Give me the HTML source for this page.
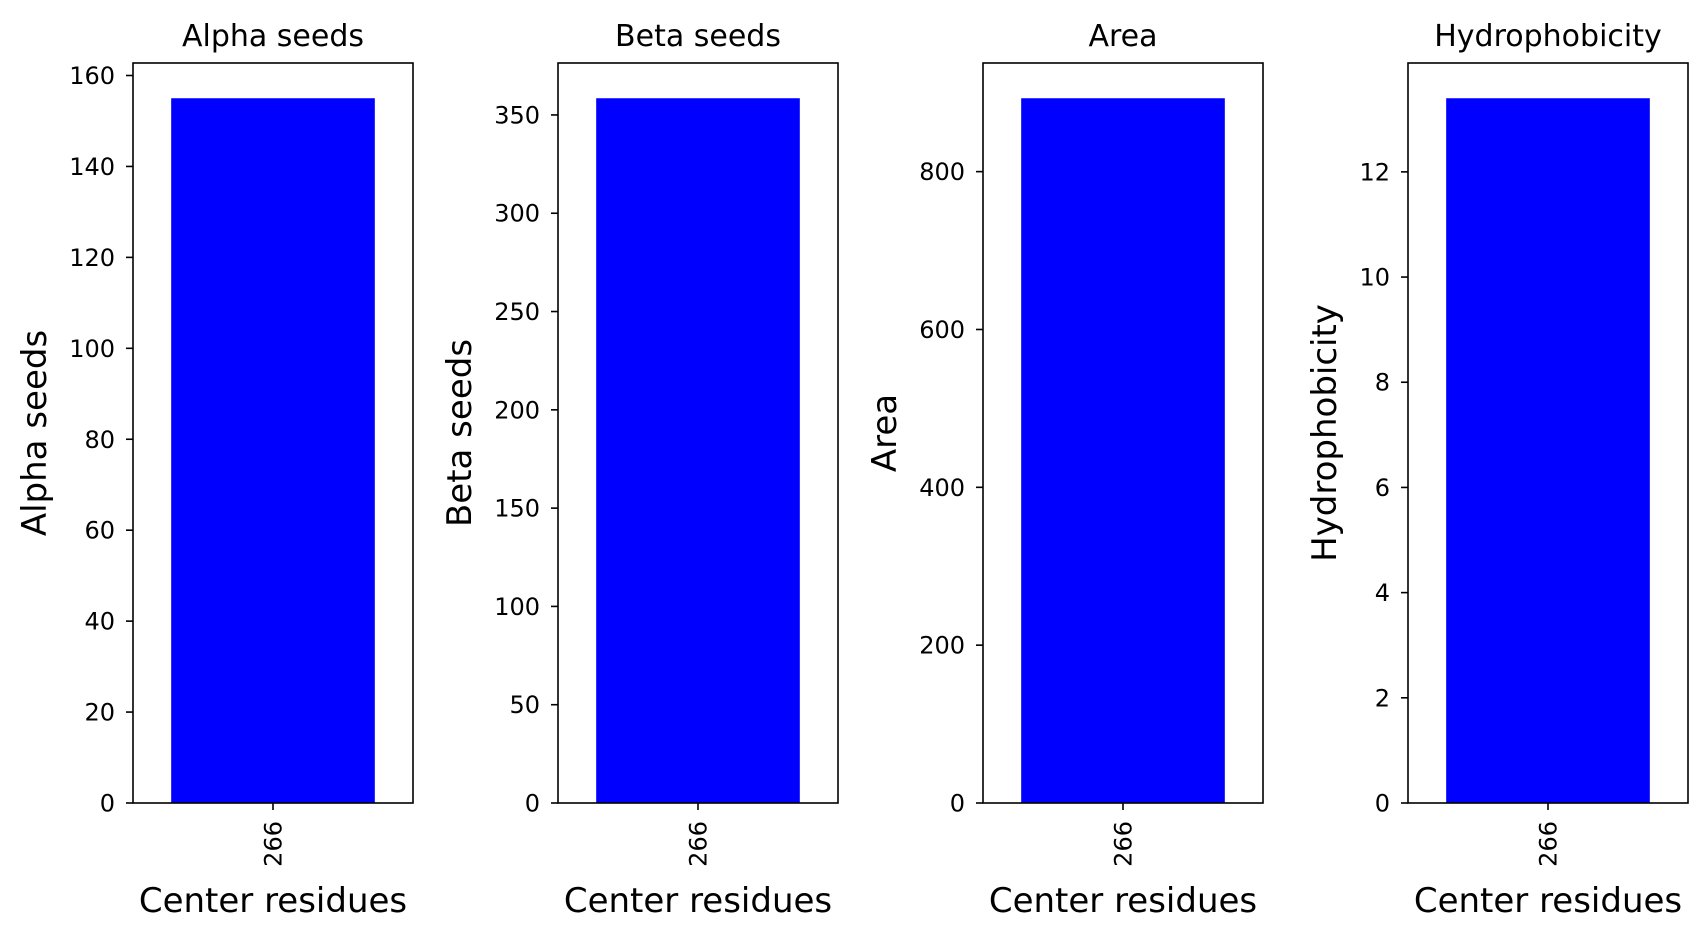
<!DOCTYPE html>
<html><head><meta charset="utf-8"><style>
html,body{margin:0;padding:0;background:#fff;}
svg{display:block;font-family:"DejaVu Sans","Liberation Sans",sans-serif;}
</style></head><body>
<svg id="fig" width="1706" height="937" viewBox="0 0 1706 937" xmlns="http://www.w3.org/2000/svg"></svg>
<script>
const panelTitles = ["Alpha seeds", "Beta seeds", "Area", "Hydrophobicity"];
const categories = ["266"];
const alphaValues = [155];
const betaValues = [358.5];
const areaValues = [893];
const hydroValues = [13.4];
const alphaTicks = [0, 20, 40, 60, 80, 100, 120, 140, 160];
const betaTicks = [0, 50, 100, 150, 200, 250, 300, 350];
const areaTicks = [0, 200, 400, 600, 800];
const hydroTicks = [0, 2, 4, 6, 8, 10, 12];

const NS = "http://www.w3.org/2000/svg";
const svgRoot = document.getElementById("fig");
function mk(tag, attrs, parent) {
  const e = document.createElementNS(NS, tag);
  for (const k in attrs) e.setAttribute(k, attrs[k]);
  (parent || svgRoot).appendChild(e);
  return e;
}
const panels = [
  {key: "alpha", values: alphaValues, ticks: alphaTicks},
  {key: "beta", values: betaValues, ticks: betaTicks},
  {key: "area", values: areaValues, ticks: areaTicks},
  {key: "hydro", values: hydroValues, ticks: hydroTicks}
];
const plotTop = 63, plotBottom = 803, axW = 280, lefts = [133, 558, 983, 1408];

panels.forEach((p, i) => {
  const L = lefts[i], R = L + axW;
  const g = mk("g", {});
  
  
  const ymax = Math.max(...p.values) * 1.05;
  const y = v => plotBottom - (v / ymax) * (plotBottom - plotTop);
  const n = categories.length;
  const xmin = -0.55, xmax = n - 1 + 0.55;
  const x = v => L + (v - xmin) / (xmax - xmin) * axW;

  p.values.forEach((v, j) => {
    const b = mk("rect", {x: x(j - 0.4), y: y(v), width: x(j + 0.4) - x(j - 0.4), height: y(0) - y(v), fill: "#0000ff"}, g);
    
    
  });

  const frame = mk("rect", {x: L, y: plotTop, width: axW, height: plotBottom - plotTop, fill: "none", stroke: "#000", "stroke-width": 1.6}, g);
  
  

  p.ticks.forEach(t => {
    const ty = y(t);
    const tl = mk("line", {x1: L - 7, x2: L, y1: ty, y2: ty, stroke: "#000", "stroke-width": 1.6}, g);
    
    
    const tx = mk("text", {x: L - 18, y: ty + 8.5, "text-anchor": "end", "font-size": 24, fill: "#000"}, g);
    tx.textContent = t;
    
    
  });

  categories.forEach((c, j) => {
    const cx = x(j);
    const tl = mk("line", {x1: cx, x2: cx, y1: plotBottom, y2: plotBottom + 7, stroke: "#000", "stroke-width": 1.6}, g);
    
    
    const tx = mk("text", {x: 0, y: 0, "text-anchor": "end", "font-size": 24, fill: "#000", transform: `translate(${cx + 8.5},${plotBottom + 18}) rotate(-90)`}, g);
    tx.textContent = c;
    
    
  });

  const title = mk("text", {x: (L + R) / 2, y: 46, "text-anchor": "middle", "font-size": 30, fill: "#000"}, g);
  title.textContent = panelTitles[i];
  
  

  const xl = mk("text", {x: (L + R) / 2, y: 912, "text-anchor": "middle", "font-size": 34, fill: "#000"}, g);
  xl.textContent = "Center residues";
  
  

  const digits = String(Math.max(...p.ticks)).length;
  const bx = L - 87 + (3 - digits) * 15;
  const yl = mk("text", {x: 0, y: 0, "text-anchor": "middle", "font-size": 34, fill: "#000", transform: `translate(${bx},${(plotTop + plotBottom) / 2}) rotate(-90)`}, g);
  yl.textContent = panelTitles[i];
  
  
});
</script>
</body></html>
